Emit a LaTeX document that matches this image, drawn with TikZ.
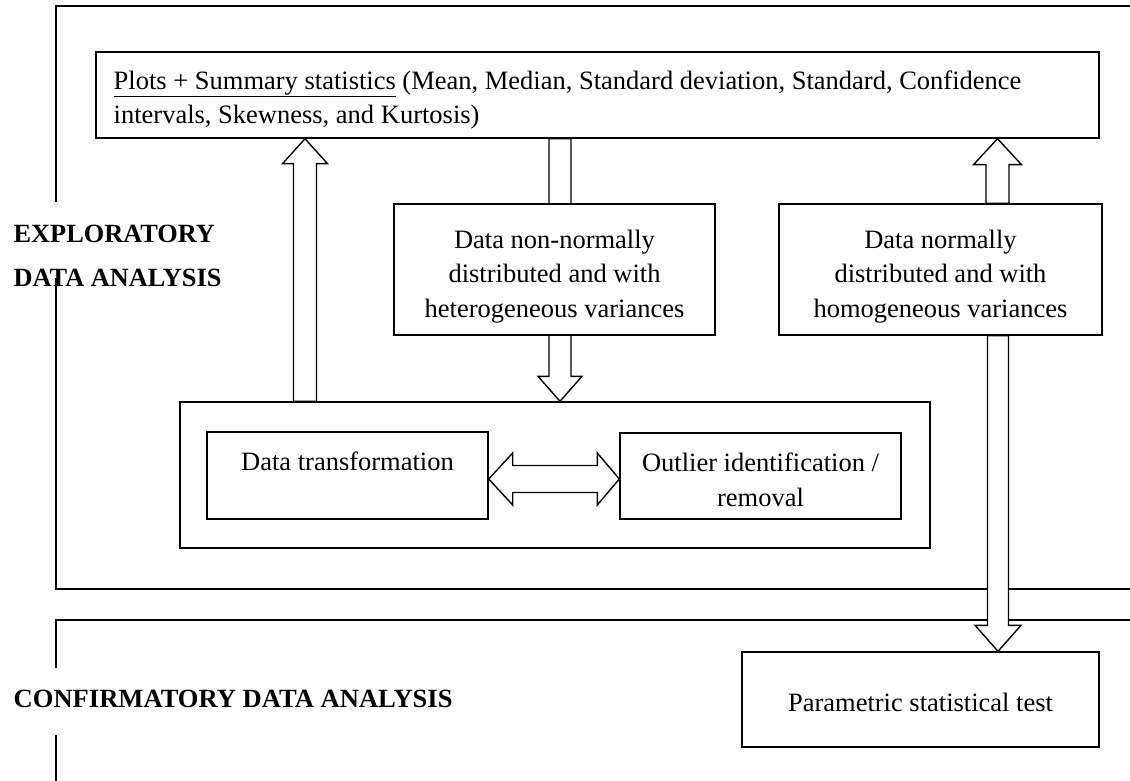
\documentclass[tikz,border=0pt]{standalone}
\usepackage{fontspec}
\setmainfont{Liberation Serif}
\usetikzlibrary{calc}
% vertical block arrow: #1 x, #2 start anchor, #3 end anchor, #4 shaft half width, #5 head half width, #6 head length
\newcommand\vblock[6]{%
  \draw[blk] let \p1=(#2), \p2=(#3), \n1={sign(\y2-\y1)} in
    (#1pt-#4pt,\y1) -- (#1pt-#4pt,\y2-\n1*#6pt) -- (#1pt-#5pt,\y2-\n1*#6pt) -- (#1pt,\y2)
    -- (#1pt+#5pt,\y2-\n1*#6pt) -- (#1pt+#4pt,\y2-\n1*#6pt) -- (#1pt+#4pt,\y1) -- cycle;}
\begin{document}
\begin{tikzpicture}[x=1pt,y=-1pt,line width=1.4pt,
  box/.style={draw,fill=white,line width=1.4pt,inner sep=0pt},
  txt/.style={font=\fontsize{26.5}{34.5}\selectfont,align=center,inner sep=0pt},
  lab/.style={font=\fontsize{26.3}{30}\selectfont\bfseries,inner sep=0pt},
  blk/.style={draw,fill=white,line width=1.4pt,line join=miter}]
\useasboundingbox (0,0) rectangle (1130,781);
% frames
\draw (1130,6) -- (56,6) -- (56,202);
\draw (56,278) -- (56,589) -- (1130,589);
\draw (1130,620) -- (56,620) -- (56,668);
\draw (56,735) -- (56,781);
% labels
\node[lab,anchor=base west] (expl) at (13,242) {EXPLORATORY};
\node[lab,anchor=base west] (expl2) at (13,286) {DATA ANALYSIS};
\node[lab,anchor=base west,xscale=1.01] (conf) at (13,707) {CONFIRMATORY DATA ANALYSIS};
% boxes
\node[box,minimum width=1003pt,minimum height=86pt] (plots) at (597.5,95) {};
\node[box,minimum width=750pt,minimum height=146pt] (cont) at (555,475) {};
\node[box,minimum width=281pt,minimum height=87pt] (dt) at (347.5,475.5) {};
\node[box,minimum width=281pt,minimum height=86pt] (out) at (760.5,476) {};
\node[box,minimum width=357pt,minimum height=95pt] (param) at (920.5,699.5) {};
% arrow behind non-normal box
\vblock{560}{plots.south}{cont.north}{11}{22}{25}
\node[box,minimum width=321pt,minimum height=131pt] (nonn) at (554.5,269.5) {};
\node[box,minimum width=323pt,minimum height=131pt] (homo) at (940.5,269.5) {};
% arrows
\vblock{305}{cont.north}{plots.south}{11.5}{22.5}{25}
\vblock{997.5}{homo.north}{plots.south}{11.5}{24}{26}
\vblock{998}{homo.south}{param.north}{10.5}{23}{26}
\draw[blk] let \p1=(dt.east), \p2=(out.west), \n1={\y1-3.5pt} in
  (\x1,\n1) -- (\x1+24pt,\n1+26pt) -- (\x1+24pt,\n1+13.5pt) -- (\x2-22pt,\n1+13.5pt)
  -- (\x2-22pt,\n1+26pt) -- (\x2,\n1) -- (\x2-22pt,\n1-26pt) -- (\x2-22pt,\n1-13.5pt)
  -- (\x1+24pt,\n1-13.5pt) -- (\x1+24pt,\n1-26pt) -- cycle;
% texts (base anchor = baseline of last line)
\node[txt,align=left,anchor=base west] (plotst) at (113,124)
  {\underline{Plots + Summary statistics} (Mean, Median, Standard deviation, Standard, Confidence\\intervals, Skewness, and Kurtosis)};
\node[txt,anchor=base] (nonnt) at (554.5,317) {Data non-normally\\distributed and with\\heterogeneous variances};
\node[txt,anchor=base] (homot) at (940.5,317) {Data normally\\distributed and with\\homogeneous variances};
\node[txt,anchor=base] (dtt) at (347.5,470) {Data transformation};
\node[txt,anchor=base] (outt) at (760.5,506) {Outlier identification /\\removal};
\node[txt,anchor=base] (paramt) at (920.5,711) {Parametric statistical test};
\end{tikzpicture}
\end{document}
